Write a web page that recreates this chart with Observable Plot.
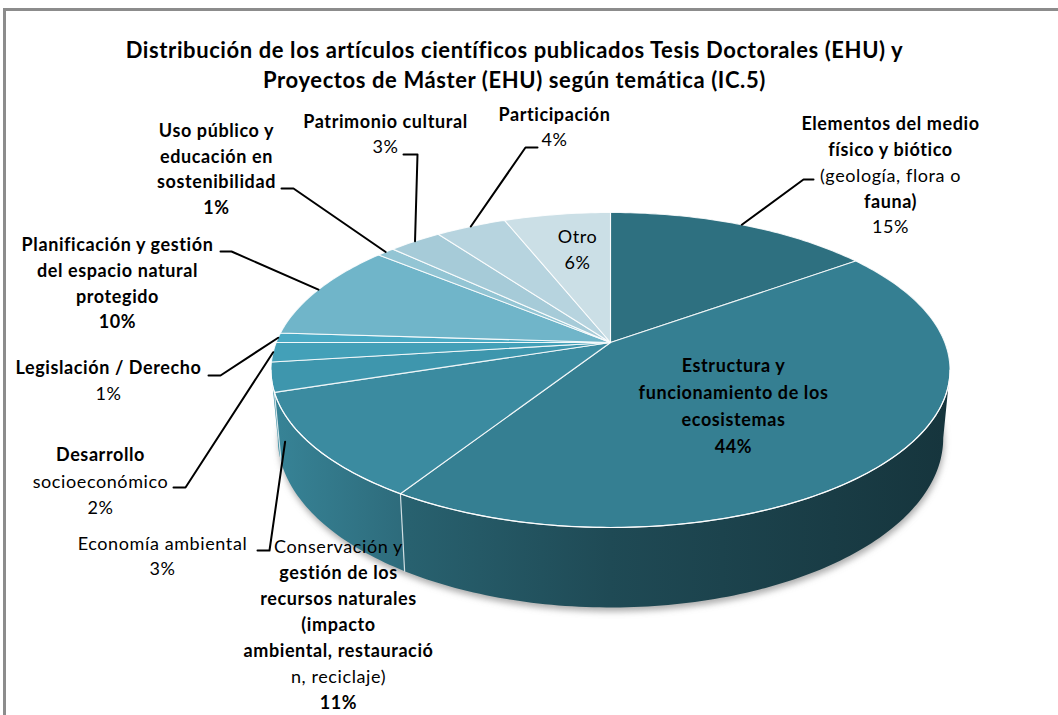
<!DOCTYPE html>
<html><head><meta charset="utf-8">
<script src="https://cdn.jsdelivr.net/npm/d3@7"></script>
<script src="https://cdn.jsdelivr.net/npm/@observablehq/plot@0.6"></script>
<style>
body{margin:0;background:#fff;overflow:hidden;}
#frame{position:absolute;left:3px;top:8px;width:1100px;height:800px;border-left:3px solid #8c8c8c;border-top:3px solid #8c8c8c;}
#chart{position:absolute;left:0;top:0;}
#chart text{letter-spacing:0.6px;}
</style></head>
<body><div id="frame"></div><div id="chart"></div>
<script>
// ---- data ----
const titleLines = ["Distribución de los artículos científicos publicados Tesis Doctorales (EHU) y",
                    "Proyectos de Máster (EHU) según temática (IC.5)"];
const categories = [
  "Elementos del medio físico y biótico (geología, flora o fauna)",
  "Estructura y funcionamiento de los ecosistemas",
  "Conservación y gestión de los recursos naturales (impacto ambiental, restauración, reciclaje)",
  "Economía ambiental",
  "Desarrollo socioeconómico",
  "Legislación / Derecho",
  "Planificación y gestión del espacio natural protegido",
  "Uso público y educación en sostenibilidad",
  "Patrimonio cultural",
  "Participación",
  "Otro"
];
const values = [15, 44, 11, 3, 2, 1, 10, 1, 3, 4, 6];
const labelLines = [
  ["Elementos del medio", "físico y biótico", "(geología, flora o", "fauna)"],
  ["Estructura y", "funcionamiento de los", "ecosistemas"],
  ["Conservación y", "gestión de los", "recursos naturales", "(impacto", "ambiental, restauració", "n, reciclaje)"],
  ["Economía ambiental"],
  ["Desarrollo", "socioeconómico"],
  ["Legislación / Derecho"],
  ["Planificación y gestión", "del espacio natural", "protegido"],
  ["Uso público y", "educación en", "sostenibilidad"],
  ["Patrimonio cultural"],
  ["Participación"],
  ["Otro"]
];
const sliceColors = ["#2e7080", "#357f92", "#3b8ba0", "#3e96ad", "#43a0b8", "#4aaac4",
                     "#70b5c9", "#93c5d4", "#a6cbd8", "#b7d4df", "#cbdfe6"];

// ---- layout (positions of label blocks and leader elbows) ----
const labelLayout = [
  {x: 890, y: 124, gap: 25.8, bold: [1,1,0,1,0], elbow: [[803,179],[813,179]]},
  {x: 733, y: 366, gap: 27, bold: [1,1,1,1]},
  {x: 338, y: 547, gap: 26, bold: [0,1,1,1,1,0,1]},
  {x: 162, y: 544, gap: 25, bold: [0,0], elbow: [[269,550],[257,550]], side: true},
  {x: 100, y: 455, gap: 26.5, bold: [1,0,0], elbow: [[185,487],[173,487]]},
  {x: 108, y: 368, gap: 25.5, bold: [1,0], elbow: [[220,375],[208,375]]},
  {x: 117, y: 245, gap: 25.7, bold: [1,1,1,1], elbow: [[231,251],[220,251]]},
  {x: 216, y: 131, gap: 25.5, bold: [1,1,1,1], elbow: [[293,188],[281,188]]},
  {x: 385, y: 122, gap: 25, bold: [1,0], elbow: [[417,154],[403,154]]},
  {x: 554, y: 115, gap: 25, bold: [1,0], elbow: [[525,147],[537,147]]},
  {x: 577, y: 237, gap: 25.5, bold: [0,0]}
];

// ---- 3D pie geometry ----
const W = 1058, H = 715;
const cx = 610, cy = 342, Rx = 334.3, Ry = 152.7, persp = 0.1746, depth = 66, shrink = 0.98;
function proj(t) {
  const u = Math.sin(t), v = -Math.cos(t), w = 1 / (1 - persp * v);
  return [cx + Rx * u * w, cy + Ry * v * w];
}
function projB(t) {
  const u = Math.sin(t), v = -Math.cos(t), w = 1 / (1 - persp * v);
  return [cx + Rx * u * w * shrink, cy + Ry * v * w + depth * w];
}
const total = d3.sum(values);
let acc = 0;
const slices = values.map((v, i) => {
  const a0 = acc / total * 2 * Math.PI; acc += v;
  const a1 = acc / total * 2 * Math.PI;
  return {i, a0, a1, mid: (a0 + a1) / 2, color: sliceColors[i]};
});
const tR = Math.acos(-persp), tL = 2 * Math.PI - tR;
function arc(a, b, f) {
  const n = Math.max(2, Math.ceil((b - a) / Math.PI * 180));
  return d3.range(n + 1).map(j => f(a + (b - a) * j / n));
}

const marks = [];
// shadow
const shadowPts = arc(tR - 0.3, tL + 0.3, projB).map(([x, y]) => ({x: x + 1, y: y + 4}));
marks.push(Plot.line(shadowPts, {x: "x", y: "y", fill: "#8a8a8a", fillOpacity: 0.7, stroke: "none"}));
// sides
const sideBounds = [];
slices.forEach(s => {
  const a = Math.max(s.a0, tR), b = Math.min(s.a1, tL);
  if (b <= a) return;
  const pts = [...arc(a, b, proj), ...arc(a, b, projB).reverse()].map(([x, y]) => ({x, y}));
  marks.push(Plot.line(pts, {x: "x", y: "y", fill: `url(#side${s.i})`, stroke: "none"}));
  if (s.a0 > tR) sideBounds.push({t: s.a0});
});
// boundary lines on side
sideBounds.forEach(b => {
  const [x1, y1] = proj(b.t), [x2, y2] = projB(b.t);
  marks.push(Plot.line([{x: x1, y: y1}, {x: x2, y: y2}], {x: "x", y: "y", stroke: "#e8f0f2", strokeWidth: 1.2, strokeOpacity: 0.85}));
});
// tops
slices.forEach(s => {
  const pts = [[cx, cy], ...arc(s.a0, s.a1, proj), [cx, cy]].map(([x, y]) => ({x, y}));
  marks.push(Plot.line(pts, {x: "x", y: "y", fill: s.color, stroke: "#ffffff", strokeWidth: 1.1, strokeOpacity: 0.85, strokeLinejoin: "round"}));
});
// rim highlight
marks.push(Plot.line(arc(tR, tL, proj).map(([x, y]) => ({x, y})), {x: "x", y: "y", stroke: "#ffffff", strokeWidth: 1.2, strokeOpacity: 0.9}));

// leaders
slices.forEach(s => {
  const L = labelLayout[s.i];
  if (!L.elbow) return;
  const start = L.side ? projB(s.mid) : proj(s.mid);
  const st = L.side ? [start[0] + 7, start[1] - 4] : start;
  const pts = [st, ...L.elbow].map(([x, y]) => ({x, y}));
  marks.push(Plot.line(pts, {x: "x", y: "y", stroke: "#000", strokeWidth: 2}));
});

// labels
const rows = [];
slices.forEach(s => {
  const L = labelLayout[s.i];
  const lines = [...labelLines[s.i], values[s.i] + "%"];
  lines.forEach((t, j) => rows.push({x: L.x, y: L.y + j * L.gap, text: t, bold: !!L.bold[j]}));
});
const font = "Lato, 'Open Sans', sans-serif";
marks.push(Plot.text(rows.filter(d => !d.bold), {x: "x", y: "y", text: "text", fontSize: 18, fontFamily: font, fill: "#000"}));
marks.push(Plot.text(rows.filter(d => d.bold), {x: "x", y: "y", text: "text", fontSize: 18, fontWeight: "bold", fontFamily: font, fill: "#000"}));
// title
marks.push(Plot.text(titleLines.map((t, j) => ({t, x: 514, y: 50 + j * 30})), {x: "x", y: "y", text: "t", fontSize: 22, fontWeight: "bold", fontFamily: font, fill: "#000"}));

const svg = Plot.plot({
  width: W, height: H, margin: 0,
  x: {domain: [0, W], range: [0, W], axis: null},
  y: {domain: [0, H], range: [0, H], axis: null},
  style: {background: "transparent", overflow: "visible"},
  marks
});

// gradients & shadow blur
const sel = d3.select(svg);
const defs = sel.insert("defs", ":first-child");
const f = defs.append("filter").attr("id", "blur").attr("x", "-10%").attr("y", "-10%").attr("width", "120%").attr("height", "130%");
f.append("feGaussianBlur").attr("stdDeviation", 3);
slices.forEach(s => {
  const c = d3.rgb(s.color);
  const g = defs.append("linearGradient").attr("id", `side${s.i}`)
    .attr("gradientUnits", "userSpaceOnUse").attr("x1", cx - Rx).attr("x2", cx + Rx).attr("y1", 0).attr("y2", 0);
  [[0, 0.94], [0.2, 0.76], [0.5, 0.58], [1, 0.42]].forEach(([o, k]) => {
    g.append("stop").attr("offset", o).attr("stop-color", d3.rgb(c.r * k, c.g * k, c.b * k).formatHex());
  });
});
const firstLine = svg.querySelector("g[aria-label='line']");
if (firstLine) firstLine.setAttribute("filter", "url(#blur)");
document.getElementById("chart").appendChild(svg);
</script>
</body></html>
